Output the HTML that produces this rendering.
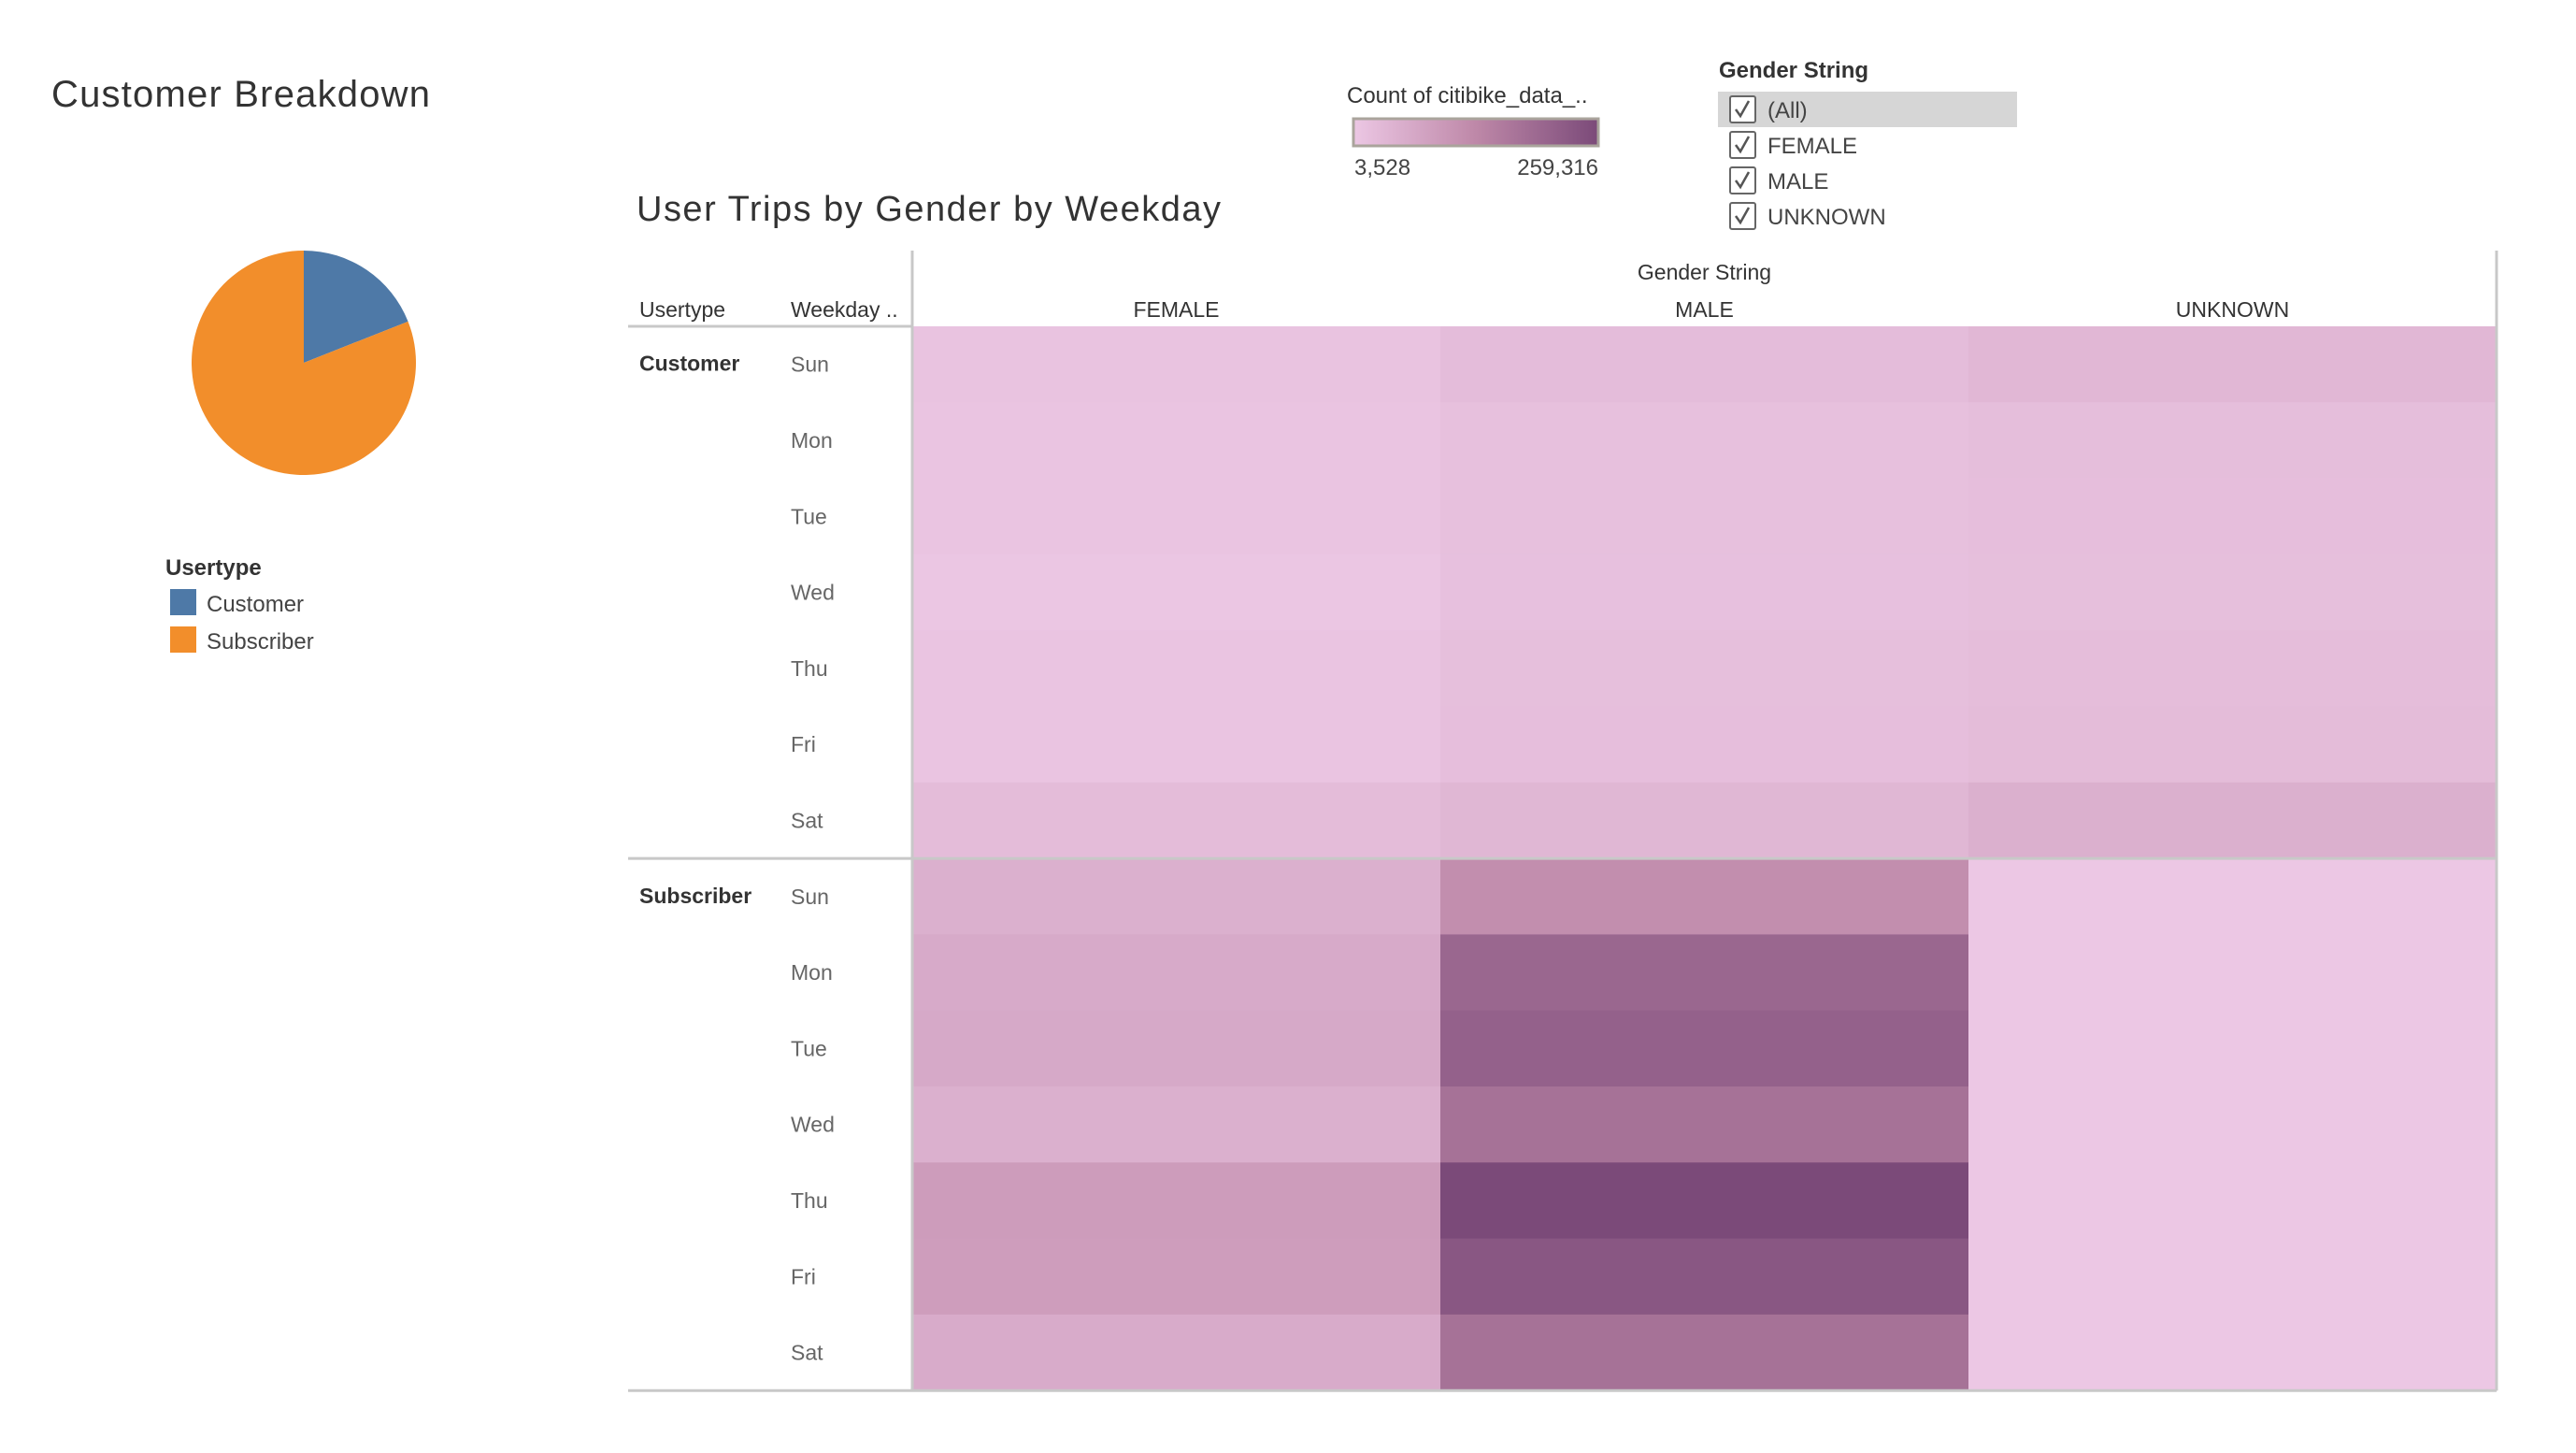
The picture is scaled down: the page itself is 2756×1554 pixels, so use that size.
<!DOCTYPE html>
<html><head><meta charset="utf-8"><style>
html,body{margin:0;padding:0;background:#fff;}
svg{display:block;font-family:"Liberation Sans",sans-serif;}
</style></head><body>
<svg id="root" width="2756" height="1554" viewBox="0 0 2756 1554" xmlns="http://www.w3.org/2000/svg">
<defs>
<linearGradient id="lg" x1="0" x2="1" y1="0" y2="0">
<stop offset="0" stop-color="#ecc7e4"/><stop offset="0.5" stop-color="#be88a8"/><stop offset="1" stop-color="#7b4a79"/>
</linearGradient>
</defs>
<text x="55" y="114" font-size="40" fill="#333" textLength="405">Customer Breakdown</text>
<g id="pie"></g>
<text x="177" y="615" font-size="24" fill="#333" font-weight="bold">Usertype</text>
<rect x="182" y="630" width="28" height="28" fill="#4e79a7"/>
<text x="221" y="654" font-size="24" fill="#444">Customer</text>
<rect x="182" y="670" width="28" height="28" fill="#f28e2b"/>
<text x="221" y="694" font-size="24" fill="#444">Subscriber</text>

<text x="681" y="236" font-size="38" fill="#333" textLength="625">User Trips by Gender by Weekday</text>

<text x="1441" y="110" font-size="24" fill="#333">Count of citibike_data_..</text>
<rect x="1448" y="127" width="262" height="29" fill="url(#lg)" stroke="#aaa49c" stroke-width="3"/>
<text x="1449" y="187" font-size="24" fill="#444">3,528</text>
<text x="1710" y="187" font-size="24" fill="#444" text-anchor="end">259,316</text>

<text x="1839" y="83" font-size="24" fill="#333" font-weight="bold">Gender String</text>
<rect x="1838" y="98" width="320" height="38" fill="#d6d6d6"/>
<g id="filters"></g>

<g id="grid"></g>
<script>
const pieLabels=["Customer","Subscriber"];
const pieValues=[19,81];
const pieColors=["#4e79a7","#f28e2b"];
const genders=["FEMALE","MALE","UNKNOWN"];
const weekdays=["Sun","Mon","Tue","Wed","Thu","Fri","Sat"];
const usertypes=["Customer","Subscriber"];
const custFemale=[12000,9000,9000,5000,10000,10000,26000];
const custMale=[25000,18000,18000,17000,20000,21000,37000];
const custUnknown=[35000,22000,21000,20000,24000,26000,50000];
const subFemale=[50000,62000,64000,50000,90000,88000,60000];
const subMale=[119000,200000,211000,177000,259316,233000,177000];
const subUnknown=[3528,3528,3528,3528,3528,3528,3528];
const filterItems=["(All)","FEMALE","MALE","UNKNOWN"];
const vMin=3528,vMax=259316;

const NS="http://www.w3.org/2000/svg";
function mk(tag,attrs,parent,txt){const e=document.createElementNS(NS,tag);for(const k in attrs)e.setAttribute(k,attrs[k]);if(txt!==undefined)e.textContent=txt;parent.appendChild(e);return e;}

const pie=document.getElementById('pie');
const cx=325,cy=388,r=120;let tot=pieValues.reduce((a,b)=>a+b,0),acc=0;
pieValues.forEach((v,i)=>{
  const a0=acc/tot*2*Math.PI,a1=(acc+v)/tot*2*Math.PI;acc+=v;
  const x0=cx+r*Math.sin(a0),y0=cy-r*Math.cos(a0),x1=cx+r*Math.sin(a1),y1=cy-r*Math.cos(a1);
  const p=mk('path',{d:`M${cx},${cy}L${x0},${y0}A${r},${r} 0 ${a1-a0>Math.PI?1:0} 1 ${x1},${y1}Z`,fill:pieColors[i]},pie);
  
  
});

const fg=document.getElementById('filters');
filterItems.forEach((t,i)=>{
  const yc=117+i*38;
  const b=mk('rect',{x:1851,y:yc-14,width:27,height:28,fill:'#fff',stroke:'#666','stroke-width':2,rx:2},fg);
  
  
  const c=mk('path',{d:`M${1857},${yc} l5,7 l9,-16`,fill:'none',stroke:'#555','stroke-width':2.5},fg);
  
  
  const l=mk('text',{x:1891,y:yc+9,'font-size':24,fill:'#444'},fg,t);
  
  
});

function lerp(a,b,t){return a.map((v,i)=>Math.round(v+(b[i]-v)*t));}
const cL=[236,199,228],cM=[190,136,168],cD=[123,74,121];
function colorOf(v){let t=(v-vMin)/(vMax-vMin);t=Math.max(0,Math.min(1,t));const c=t<0.5?lerp(cL,cM,t*2):lerp(cM,cD,(t-0.5)*2);return `rgb(${c[0]},${c[1]},${c[2]})`;}
const g=document.getElementById('grid');
const gx0=976,colW=565,hy=349,rowH=81.3,lx=672,gx1=gx0+3*colW;
const xs=i=>gx0+i*colW, ys=(u,d)=>hy+(u*7+d)*rowH;
const series=[[custFemale,custMale,custUnknown],[subFemale,subMale,subUnknown]];
series.forEach((us,u)=>us.forEach((arr,gi)=>arr.forEach((v,d)=>{
  const rc=mk('rect',{x:xs(gi),y:ys(u,d),width:colW+0.5,height:rowH+0.5,fill:colorOf(v)},g);
  
  
})));
let t=mk('text',{x:(gx0+gx1)/2,y:299,'font-size':23,fill:'#333','text-anchor':'middle'},g,'Gender String');


genders.forEach((n,i)=>{
  const h=mk('text',{x:xs(i)+colW/2,y:339,'font-size':23,fill:'#333','text-anchor':'middle'},g,n);
  
  
});
t=mk('text',{x:684,y:339,'font-size':23,fill:'#333'},g,'Usertype');


t=mk('text',{x:846,y:339,'font-size':23,fill:'#333'},g,'Weekday ..');


usertypes.forEach((n,u)=>{
  const e=mk('text',{x:684,y:ys(u,0)+rowH/2+7,'font-size':23,fill:'#333','font-weight':'bold'},g,n);
  
  
  weekdays.forEach((w,d)=>{
    const wl=mk('text',{x:846,y:ys(u,d)+rowH/2+8,'font-size':23,fill:'#666'},g,w);
    
    
  });
});
[[lx,hy,gx0,hy],[lx,ys(1,0),gx1,ys(1,0)],[lx,ys(2,0),gx1,ys(2,0)],[gx0,268,gx0,ys(2,0)],[gx1,268,gx1,ys(2,0)]].forEach(l=>{
  const e=mk('line',{x1:l[0],y1:l[1],x2:l[2],y2:l[3],stroke:'#c8c8c8','stroke-width':3},g);
  
  
});
</script>
</svg>
</body></html>
